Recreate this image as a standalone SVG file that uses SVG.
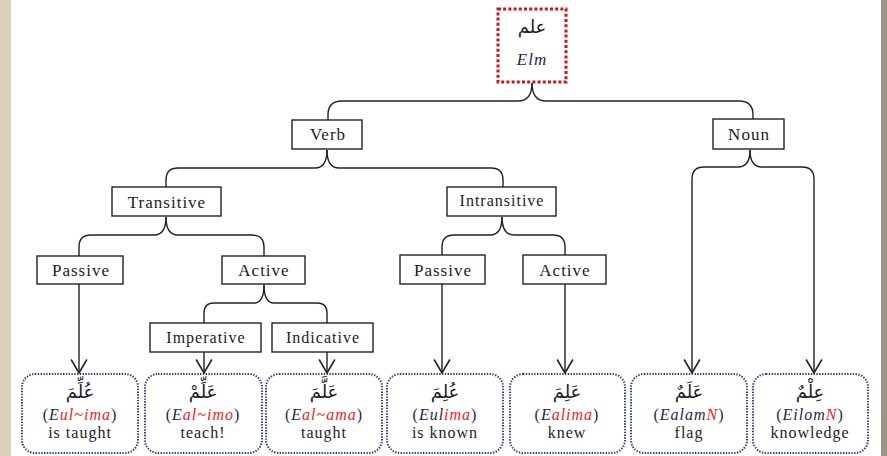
<svg xmlns="http://www.w3.org/2000/svg" width="887" height="456" viewBox="0 0 887 456">
<defs>
<style>
.bg{fill:#ffffff}
.node rect{fill:#ffffff;stroke:#222222;stroke-width:1.4}
.lbl{font-family:"Liberation Serif","Times New Roman",serif;font-size:17px;letter-spacing:1px;fill:#1c1c24;text-anchor:middle}
.sm{font-size:16px}
.leaf rect{fill:#ffffff;stroke:#34407a;stroke-width:2;stroke-dasharray:1.4 1.4}
.tr{font-family:"Liberation Serif","Times New Roman",serif;font-size:16px;letter-spacing:1px;fill:#26284a;text-anchor:middle}
.tr .it{font-style:italic}
.en{font-family:"Liberation Serif","Times New Roman",serif;font-size:16px;letter-spacing:1px;fill:#1c1c24;text-anchor:middle}
.ar{font-family:"DejaVu Sans",sans-serif;font-size:18px;fill:#1c1c24;text-anchor:middle}
.r{fill:#f21c1c}
.conn path{fill:none;stroke:#222222;stroke-width:1.4}
</style>
<marker id="arr" markerUnits="userSpaceOnUse" markerWidth="16" markerHeight="18" viewBox="0 0 14 16" refX="13" refY="8" orient="auto">
<path d="M1,1 L13,8 L1,15" fill="none" stroke="#222222" stroke-width="1.4"/>
</marker>
</defs>
<rect class="bg" x="0" y="0" width="887" height="456"/>
<rect x="0" y="0" width="11" height="456" fill="#dbd1b5"/>
<rect x="881" y="0" width="6" height="456" fill="#9d9583"/>

<g class="conn">
<path d="M328,120 V115 Q328,101 342,101 H518 Q532,101 532,83"/>
<path d="M753,119 V115 Q753,101 739,101 H546 Q532,101 532,83"/>
<path d="M166,187 V180 Q166,168 178,168 H315 Q327,168 327,150"/>
<path d="M503,187 V180 Q503,168 491,168 H339 Q327,168 327,150"/>
<path d="M79,256 V247 Q79,235 91,235 H154 Q166,235 166,217"/>
<path d="M264,256 V247 Q264,235 252,235 H178 Q166,235 166,217"/>
<path d="M204,323 V313 Q204,303 214,303 H254 Q264,303 264,285"/>
<path d="M327,323 V313 Q327,303 317,303 H274 Q264,303 264,285"/>
<path d="M442,255 V247 Q442,235 454,235 H490 Q502,235 502,217"/>
<path d="M565,255 V247 Q565,235 553,235 H514 Q502,235 502,217"/>
<path d="M79,284 V373" marker-end="url(#arr)"/>
<path d="M204,352 V373" marker-end="url(#arr)"/>
<path d="M327,352 V373" marker-end="url(#arr)"/>
<path d="M442,284 V373" marker-end="url(#arr)"/>
<path d="M565,284 V373" marker-end="url(#arr)"/>
<path d="M750,150 Q750,167 738,167 H704 Q692,167 692,179 V373" marker-end="url(#arr)"/>
<path d="M750,150 Q750,167 762,167 H802 Q814,167 814,179 V373" marker-end="url(#arr)"/>
</g>

<g id="root">
<rect x="498" y="9" width="68" height="73" fill="#ffffff" stroke="#c8161d" stroke-width="3" stroke-dasharray="3 2.2"/>
<text class="ar" x="532" y="33">علم</text>
<text class="tr" x="532" y="65" style="font-size:17px"><tspan class="it">Elm</tspan></text>
</g>

<g id="verb" class="node"><rect x="292" y="120" width="70" height="29"/><text class="lbl" x="328" y="140">Verb</text></g>
<g id="noun" class="node"><rect x="713" y="119" width="71" height="30"/><text class="lbl" x="749" y="140">Noun</text></g>
<g id="transitive" class="node"><rect x="112" y="187" width="109" height="29"/><text class="lbl" x="167" y="208">Transitive</text></g>
<g id="intransitive" class="node"><rect x="447" y="187" width="109" height="29"/><text class="lbl sm" x="502" y="206">Intransitive</text></g>
<g id="passive1" class="node"><rect x="37" y="256" width="86" height="28"/><text class="lbl" x="81" y="276">Passive</text></g>
<g id="active1" class="node"><rect x="222" y="256" width="83" height="28"/><text class="lbl" x="264" y="276">Active</text></g>
<g id="imperative" class="node"><rect x="150" y="323" width="111" height="29"/><text class="lbl sm" x="206" y="343">Imperative</text></g>
<g id="indicative" class="node"><rect x="272" y="323" width="101" height="29"/><text class="lbl sm" x="323" y="343">Indicative</text></g>
<g id="passive2" class="node"><rect x="400" y="255" width="85" height="29"/><text class="lbl" x="443" y="276">Passive</text></g>
<g id="active2" class="node"><rect x="523" y="255" width="83" height="29"/><text class="lbl" x="565" y="276">Active</text></g>

<g id="leaf1" class="leaf"><rect x="22" y="374" width="116" height="79" rx="13"/>
<text class="ar" x="80" y="398">عُلِّمَ</text>
<text class="tr" x="80" y="420">(<tspan class="it">E</tspan><tspan class="it r">ul~ima</tspan>)</text>
<text class="en" x="80" y="438">is taught</text></g>
<g id="leaf2" class="leaf"><rect x="145" y="374" width="117" height="79" rx="13"/>
<text class="ar" x="203" y="398">عَلِّمْ</text>
<text class="tr" x="203" y="420">(<tspan class="it">E</tspan><tspan class="it r">al~imo</tspan>)</text>
<text class="en" x="203" y="438">teach!</text></g>
<g id="leaf3" class="leaf"><rect x="266" y="374" width="116" height="79" rx="13"/>
<text class="ar" x="324" y="398">عَلَّمَ</text>
<text class="tr" x="324" y="420">(<tspan class="it">E</tspan><tspan class="it r">al~ama</tspan>)</text>
<text class="en" x="324" y="438">taught</text></g>
<g id="leaf4" class="leaf"><rect x="387" y="374" width="116" height="79" rx="13"/>
<text class="ar" x="445" y="398">عُلِمَ</text>
<text class="tr" x="445" y="420">(<tspan class="it">Eul</tspan><tspan class="it r">ima</tspan>)</text>
<text class="en" x="445" y="438">is known</text></g>
<g id="leaf5" class="leaf"><rect x="510" y="374" width="115" height="79" rx="13"/>
<text class="ar" x="567" y="398">عَلِمَ</text>
<text class="tr" x="567" y="420">(<tspan class="it">E</tspan><tspan class="it r">alima</tspan>)</text>
<text class="en" x="567" y="438">knew</text></g>
<g id="leaf6" class="leaf"><rect x="631" y="374" width="116" height="79" rx="13"/>
<text class="ar" x="689" y="398">عَلَمٌ</text>
<text class="tr" x="689" y="420">(<tspan class="it">Ealam</tspan><tspan class="it r">N</tspan>)</text>
<text class="en" x="689" y="438">flag</text></g>
<g id="leaf7" class="leaf"><rect x="753" y="374" width="115" height="79" rx="13"/>
<text class="ar" x="810" y="398">عِلْمٌ</text>
<text class="tr" x="810" y="420">(<tspan class="it">Eilom</tspan><tspan class="it r">N</tspan>)</text>
<text class="en" x="810" y="438">knowledge</text></g>
</svg>
